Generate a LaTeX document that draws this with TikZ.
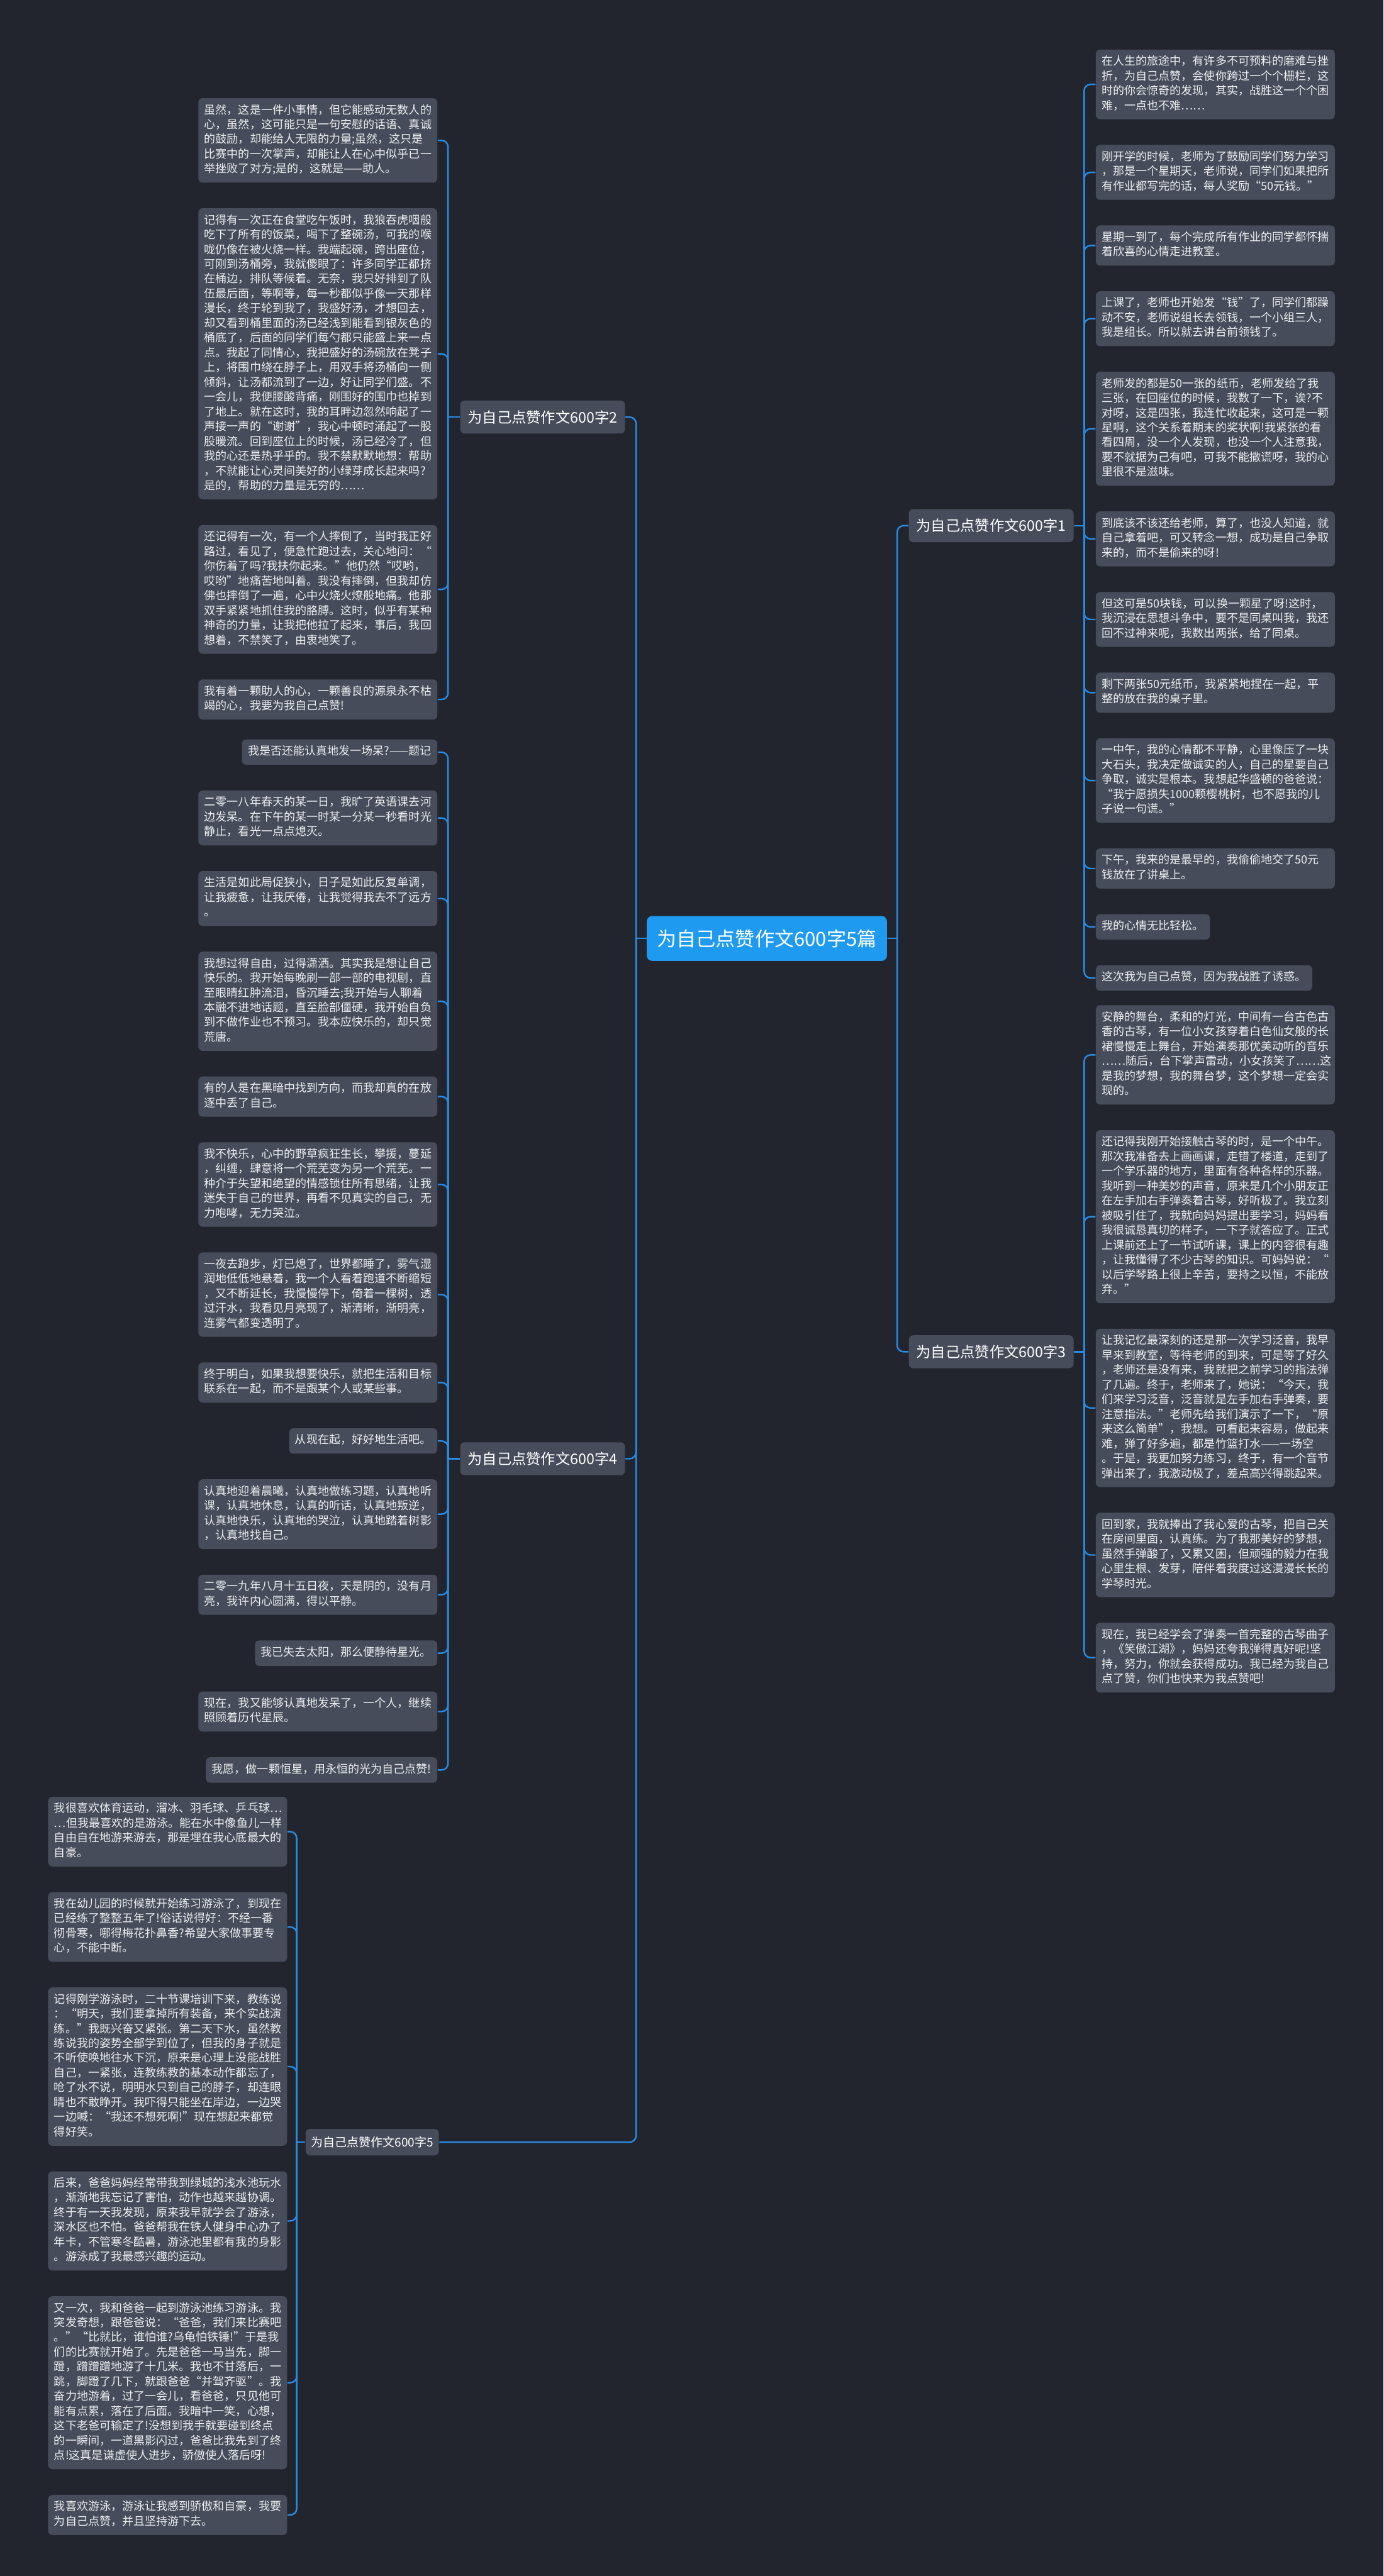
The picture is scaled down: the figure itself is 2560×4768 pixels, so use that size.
\documentclass[tikz,border=0pt]{standalone}
\usepackage{fontspec}
\setmainfont{Noto Sans CJK SC}
\usetikzlibrary{positioning}
\definecolor{bgDark}{RGB}{34,37,46}
\definecolor{boxGray}{RGB}{70,76,90}
\definecolor{rootBlue}{RGB}{30,155,240}
\definecolor{linkBlue}{RGB}{40,140,230}
\definecolor{noteText}{RGB}{236,238,240}

\begin{document}
\begin{tikzpicture}[
    x=0.01cm, y=0.01cm,
    node distance=0.46cm,
    root/.style={fill=rootBlue, text=white, rounded corners=0.1cm, font=\fontsize{10.3pt}{12pt}\selectfont, minimum height=0.83cm, inner xsep=0.19cm},
    topic/.style={fill=boxGray, text=white, rounded corners=0.08cm, font=\fontsize{7.7pt}{9pt}\selectfont, minimum height=0.61cm, inner xsep=0.14cm},
    subtopic/.style={topic, font=\fontsize{6.3pt}{7.5pt}\selectfont, minimum height=0.49cm, inner xsep=0.1cm},
    box/.style={fill=boxGray, text=noteText, rounded corners=0.08cm, inner xsep=0.11cm, inner ysep=0.0985cm, font=\fontsize{5.98pt}{7.77pt}\selectfont, execute at begin node=\strut, execute at end node=\strut},
    leaf/.style={box, align=left, text width=4.2cm},
    short/.style={box},
    link/.style={draw=linkBlue, line width=0.8pt, rounded corners=0.12cm}
  ]
    \path[fill=bgDark, use as bounding box] (0,0) rectangle (2560,-4768);

    % centre and the five essays
    \node[root] (root) at (1419,-1737) {为自己点赞作文600字5篇};
    \node[topic, anchor=west] (s1) at (1681,-973) {为自己点赞作文600字1};
    \node[topic, anchor=east] (s2) at (1157,-772) {为自己点赞作文600字2};
    \node[topic, anchor=west] (s3) at (1681,-2502) {为自己点赞作文600字3};
    \node[topic, anchor=east] (s4) at (1157,-2700) {为自己点赞作文600字4};
    \node[subtopic, anchor=west] (s5) at (565,-3965) {为自己点赞作文600字5};

    % essay 2
    \node[leaf, anchor=north east] (s2a) at (810,-181) {虽然，这是一件小事情，但它能感动无数人的\\心，虽然，这可能只是一句安慰的话语、真诚\\的鼓励，却能给人无限的力量;虽然，这只是\\比赛中的一次掌声，却能让人在心中似乎已一\\举挫败了对方;是的，这就是——助人。};
    \node[leaf, below=of s2a.south east, anchor=north east] (s2b) {记得有一次正在食堂吃午饭时，我狼吞虎咽般\\吃下了所有的饭菜，喝下了整碗汤，可我的喉\\咙仍像在被火烧一样。我端起碗，跨出座位，\\可刚到汤桶旁，我就傻眼了：许多同学正都挤\\在桶边，排队等候着。无奈，我只好排到了队\\伍最后面，等啊等，每一秒都似乎像一天那样\\漫长，终于轮到我了，我盛好汤，才想回去，\\却又看到桶里面的汤已经浅到能看到银灰色的\\桶底了，后面的同学们每勺都只能盛上来一点\\点。我起了同情心，我把盛好的汤碗放在凳子\\上，将围巾绕在脖子上，用双手将汤桶向一侧\\倾斜，让汤都流到了一边，好让同学们盛。不\\一会儿，我便腰酸背痛，刚围好的围巾也掉到\\了地上。就在这时，我的耳畔边忽然响起了一\\声接一声的“谢谢”，我心中顿时涌起了一股\\股暖流。回到座位上的时候，汤已经冷了，但\\我的心还是热乎乎的。我不禁默默地想：帮助\\，不就能让心灵间美好的小绿芽成长起来吗?\\是的，帮助的力量是无穷的……};
    \node[leaf, below=of s2b.south east, anchor=north east] (s2c) {还记得有一次，有一个人摔倒了，当时我正好\\路过，看见了，便急忙跑过去，关心地问：“\\你伤着了吗?我扶你起来。”他仍然“哎哟，\\哎哟”地痛苦地叫着。我没有摔倒，但我却仿\\佛也摔倒了一遍，心中火烧火燎般地痛。他那\\双手紧紧地抓住我的胳膊。这时，似乎有某种\\神奇的力量，让我把他拉了起来，事后，我回\\想着，不禁笑了，由衷地笑了。};
    \node[leaf, below=of s2c.south east, anchor=north east] (s2d) {我有着一颗助人的心，一颗善良的源泉永不枯\\竭的心，我要为我自己点赞!};

    % essay 4
    \node[short, anchor=north east] (s4a) at (810,-1368) {我是否还能认真地发一场呆?——题记};
    \node[leaf, below=of s4a.south east, anchor=north east] (s4b) {二零一八年春天的某一日，我旷了英语课去河\\边发呆。在下午的某一时某一分某一秒看时光\\静止，看光一点点熄灭。};
    \node[leaf, below=of s4b.south east, anchor=north east] (s4c) {生活是如此局促狭小，日子是如此反复单调，\\让我疲惫，让我厌倦，让我觉得我去不了远方\\。};
    \node[leaf, below=of s4c.south east, anchor=north east] (s4d) {我想过得自由，过得潇洒。其实我是想让自己\\快乐的。我开始每晚刷一部一部的电视剧，直\\至眼睛红肿流泪，昏沉睡去;我开始与人聊着\\本融不进地话题，直至脸部僵硬，我开始自负\\到不做作业也不预习。我本应快乐的，却只觉\\荒唐。};
    \node[leaf, below=of s4d.south east, anchor=north east] (s4e) {有的人是在黑暗中找到方向，而我却真的在放\\逐中丢了自己。};
    \node[leaf, below=of s4e.south east, anchor=north east] (s4f) {我不快乐，心中的野草疯狂生长，攀援，蔓延\\，纠缠，肆意将一个荒芜变为另一个荒芜。一\\种介于失望和绝望的情感锁住所有思绪，让我\\迷失于自己的世界，再看不见真实的自己，无\\力咆哮，无力哭泣。};
    \node[leaf, below=of s4f.south east, anchor=north east] (s4g) {一夜去跑步，灯已熄了，世界都睡了，雾气湿\\润地低低地悬着，我一个人看着跑道不断缩短\\，又不断延长，我慢慢停下，倚着一棵树，透\\过汗水，我看见月亮现了，渐清晰，渐明亮，\\连雾气都变透明了。};
    \node[leaf, below=of s4g.south east, anchor=north east] (s4h) {终于明白，如果我想要快乐，就把生活和目标\\联系在一起，而不是跟某个人或某些事。};
    \node[short, below=of s4h.south east, anchor=north east] (s4i) {从现在起，好好地生活吧。};
    \node[leaf, below=of s4i.south east, anchor=north east] (s4j) {认真地迎着晨曦，认真地做练习题，认真地听\\课，认真地休息，认真的听话，认真地叛逆，\\认真地快乐，认真地的哭泣，认真地踏着树影\\，认真地找自己。};
    \node[leaf, below=of s4j.south east, anchor=north east] (s4k) {二零一九年八月十五日夜，天是阴的，没有月\\亮，我许内心圆满，得以平静。};
    \node[short, below=of s4k.south east, anchor=north east] (s4l) {我已失去太阳，那么便静待星光。};
    \node[leaf, below=of s4l.south east, anchor=north east] (s4m) {现在，我又能够认真地发呆了，一个人，继续\\照顾着历代星辰。};
    \node[short, below=of s4m.south east, anchor=north east] (s4n) {我愿，做一颗恒星，用永恒的光为自己点赞!};

    % essay 5
    \node[leaf, anchor=north east] (s5a) at (532,-3325) {我很喜欢体育运动，溜冰、羽毛球、乒乓球…\\…但我最喜欢的是游泳。能在水中像鱼儿一样\\自由自在地游来游去，那是埋在我心底最大的\\自豪。};
    \node[leaf, below=of s5a.south east, anchor=north east] (s5b) {我在幼儿园的时候就开始练习游泳了，到现在\\已经练了整整五年了!俗话说得好：不经一番\\彻骨寒，哪得梅花扑鼻香?希望大家做事要专\\心，不能中断。};
    \node[leaf, below=of s5b.south east, anchor=north east] (s5c) {记得刚学游泳时，二十节课培训下来，教练说\\：“明天，我们要拿掉所有装备，来个实战演\\练。”我既兴奋又紧张。第二天下水，虽然教\\练说我的姿势全部学到位了，但我的身子就是\\不听使唤地往水下沉，原来是心理上没能战胜\\自己，一紧张，连教练教的基本动作都忘了，\\呛了水不说，明明水只到自己的脖子，却连眼\\睛也不敢睁开。我吓得只能坐在岸边，一边哭\\一边喊：“我还不想死啊!”现在想起来都觉\\得好笑。};
    \node[leaf, below=of s5c.south east, anchor=north east] (s5d) {后来，爸爸妈妈经常带我到绿城的浅水池玩水\\，渐渐地我忘记了害怕，动作也越来越协调。\\终于有一天我发现，原来我早就学会了游泳，\\深水区也不怕。爸爸帮我在铁人健身中心办了\\年卡，不管寒冬酷暑，游泳池里都有我的身影\\。游泳成了我最感兴趣的运动。};
    \node[leaf, below=of s5d.south east, anchor=north east] (s5e) {又一次，我和爸爸一起到游泳池练习游泳。我\\突发奇想，跟爸爸说：“爸爸，我们来比赛吧\\。”“比就比，谁怕谁?乌龟怕铁锤!”于是我\\们的比赛就开始了。先是爸爸一马当先，脚一\\蹬，蹭蹭蹭地游了十几米。我也不甘落后，一\\跳，脚蹬了几下，就跟爸爸“并驾齐驱”。我\\奋力地游着，过了一会儿，看爸爸，只见他可\\能有点累，落在了后面。我暗中一笑，心想，\\这下老爸可输定了!没想到我手就要碰到终点\\的一瞬间，一道黑影闪过，爸爸比我先到了终\\点!这真是谦虚使人进步，骄傲使人落后呀!};
    \node[leaf, below=of s5e.south east, anchor=north east] (s5f) {我喜欢游泳，游泳让我感到骄傲和自豪，我要\\为自己点赞，并且坚持游下去。};

    % essay 1
    \node[leaf, anchor=north west] (s1a) at (2027,-91) {在人生的旅途中，有许多不可预料的磨难与挫\\折，为自己点赞，会使你跨过一个个栅栏，这\\时的你会惊奇的发现，其实，战胜这一个个困\\难，一点也不难……};
    \node[leaf, below=of s1a.south west, anchor=north west] (s1b) {刚开学的时候，老师为了鼓励同学们努力学习\\，那是一个星期天，老师说，同学们如果把所\\有作业都写完的话，每人奖励“50元钱。”};
    \node[leaf, below=of s1b.south west, anchor=north west] (s1c) {星期一到了，每个完成所有作业的同学都怀揣\\着欣喜的心情走进教室。};
    \node[leaf, below=of s1c.south west, anchor=north west] (s1d) {上课了，老师也开始发“钱”了，同学们都躁\\动不安，老师说组长去领钱，一个小组三人，\\我是组长。所以就去讲台前领钱了。};
    \node[leaf, below=of s1d.south west, anchor=north west] (s1e) {老师发的都是50一张的纸币，老师发给了我\\三张，在回座位的时候，我数了一下，诶?不\\对呀，这是四张，我连忙收起来，这可是一颗\\星啊，这个关系着期末的奖状啊!我紧张的看\\看四周，没一个人发现，也没一个人注意我，\\要不就据为己有吧，可我不能撒谎呀，我的心\\里很不是滋味。};
    \node[leaf, below=of s1e.south west, anchor=north west] (s1f) {到底该不该还给老师，算了，也没人知道，就\\自己拿着吧，可又转念一想，成功是自己争取\\来的，而不是偷来的呀!};
    \node[leaf, below=of s1f.south west, anchor=north west] (s1g) {但这可是50块钱，可以换一颗星了呀!这时，\\我沉浸在思想斗争中，要不是同桌叫我，我还\\回不过神来呢，我数出两张，给了同桌。};
    \node[leaf, below=of s1g.south west, anchor=north west] (s1h) {剩下两张50元纸币，我紧紧地捏在一起，平\\整的放在我的桌子里。};
    \node[leaf, below=of s1h.south west, anchor=north west] (s1i) {一中午，我的心情都不平静，心里像压了一块\\大石头，我决定做诚实的人，自己的星要自己\\争取，诚实是根本。我想起华盛顿的爸爸说：\\“我宁愿损失1000颗樱桃树，也不愿我的儿\\子说一句谎。”};
    \node[leaf, below=of s1i.south west, anchor=north west] (s1j) {下午，我来的是最早的，我偷偷地交了50元\\钱放在了讲桌上。};
    \node[short, below=of s1j.south west, anchor=north west] (s1k) {我的心情无比轻松。};
    \node[short, below=of s1k.south west, anchor=north west] (s1l) {这次我为自己点赞，因为我战胜了诱惑。};

    % essay 3
    \node[leaf, anchor=north west] (s3a) at (2027,-1860) {安静的舞台，柔和的灯光，中间有一台古色古\\香的古琴，有一位小女孩穿着白色仙女般的长\\裙慢慢走上舞台，开始演奏那优美动听的音乐\\……随后，台下掌声雷动，小女孩笑了……这\\是我的梦想，我的舞台梦，这个梦想一定会实\\现的。};
    \node[leaf, below=of s3a.south west, anchor=north west] (s3b) {还记得我刚开始接触古琴的时，是一个中午。\\那次我准备去上画画课，走错了楼道，走到了\\一个学乐器的地方，里面有各种各样的乐器。\\我听到一种美妙的声音，原来是几个小朋友正\\在左手加右手弹奏着古琴，好听极了。我立刻\\被吸引住了，我就向妈妈提出要学习，妈妈看\\我很诚恳真切的样子，一下子就答应了。正式\\上课前还上了一节试听课，课上的内容很有趣\\，让我懂得了不少古琴的知识。可妈妈说：“\\以后学琴路上很上辛苦，要持之以恒，不能放\\弃。”};
    \node[leaf, below=of s3b.south west, anchor=north west] (s3c) {让我记忆最深刻的还是那一次学习泛音，我早\\早来到教室，等待老师的到来，可是等了好久\\，老师还是没有来，我就把之前学习的指法弹\\了几遍。终于，老师来了，她说：“今天，我\\们来学习泛音，泛音就是左手加右手弹奏，要\\注意指法。”老师先给我们演示了一下，“原\\来这么简单”，我想。可看起来容易，做起来\\难，弹了好多遍，都是竹篮打水——一场空\\。于是，我更加努力练习，终于，有一个音节\\弹出来了，我激动极了，差点高兴得跳起来。};
    \node[leaf, below=of s3c.south west, anchor=north west] (s3d) {回到家，我就捧出了我心爱的古琴，把自己关\\在房间里面，认真练。为了我那美好的梦想，\\虽然手弹酸了，又累又困，但顽强的毅力在我\\心里生根、发芽，陪伴着我度过这漫漫长长的\\学琴时光。};
    \node[leaf, below=of s3d.south west, anchor=north west] (s3e) {现在，我已经学会了弹奏一首完整的古琴曲子\\，《笑傲江湖》，妈妈还夸我弹得真好呢!坚\\持，努力，你就会获得成功。我已经为我自己\\点了赞，你们也快来为我点赞吧!};

    % trunk joints
    \coordinate (jl) at (1177,-1737);
    \coordinate (jr) at (1660,-1737);
    \coordinate (j1) at (2006,-973);
    \coordinate (j2) at (829,-772);
    \coordinate (j3) at (2006,-2502);
    \coordinate (j4) at (829,-2700);
    \coordinate (j5) at (549,-3965);

    \draw[link] (root.west) -- (jl);
    \draw[link] (root.east) -- (jr);
    \foreach \s in {s2,s4,s5} \draw[link] (jl) |- (\s.east);
    \foreach \s in {s1,s3} \draw[link] (jr) |- (\s.west);

    \draw[link] (s1.east) -- (j1);
    \foreach \n in {s1a,s1b,s1c,s1d,s1e,s1f,s1g,s1h,s1i,s1j,s1k,s1l} \draw[link] (j1) |- (\n.west);
    \draw[link] (s3.east) -- (j3);
    \foreach \n in {s3a,s3b,s3c,s3d,s3e} \draw[link] (j3) |- (\n.west);
    \draw[link] (s2.west) -- (j2);
    \foreach \n in {s2a,s2b,s2c,s2d} \draw[link] (j2) |- (\n.east);
    \draw[link] (s4.west) -- (j4);
    \foreach \n in {s4a,s4b,s4c,s4d,s4e,s4f,s4g,s4h,s4i,s4j,s4k,s4l,s4m,s4n} \draw[link] (j4) |- (\n.east);
    \draw[link] (s5.west) -- (j5);
    \foreach \n in {s5a,s5b,s5c,s5d,s5e,s5f} \draw[link] (j5) |- (\n.east);
  \end{tikzpicture}
\end{document}
